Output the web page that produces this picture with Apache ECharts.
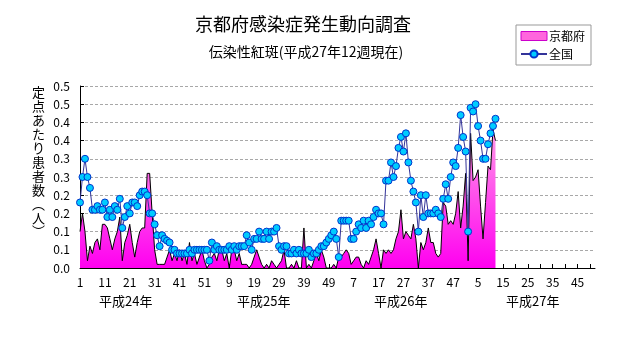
<!DOCTYPE html>
<html><head><meta charset="utf-8">
<script src="https://cdn.jsdelivr.net/npm/echarts@6/dist/echarts.min.js"></script>
<style>html,body{margin:0;padding:0;background:#fff}#c{width:631px;height:347px}</style>
</head><body><div id="c"></div>
<script>
// ---- data ----
const weeksPerYear = [52, 52, 52, 52];
const yearLabels = ['平成24年', '平成25年', '平成26年', '平成27年'];
const yTickLabels = ['0.0','0.1','0.1','0.2','0.2','0.3','0.3','0.4','0.4','0.5','0.5'];
const yAxisTitle = ['定','点','あ','た','り','患','者','数','︵','人','︶'];
const kyoto = [
0.10,0.15,0.10,0.02,0.06,0.04,0.07,0.08,0.05,0.12,0.12,0.11,0.08,0.05,0.08,0.10,0.14,0.02,0.07,0.09,
0.12,0.07,0.03,0.07,0.10,0.11,0.11,0.26,0.26,0.15,0.05,0.01,0.01,0.01,0.01,0.03,0.05,0.02,0.04,0.02,
0.05,0.02,0.04,0.01,0.07,0.02,0.04,0.01,0.03,0.05,0.02,0.00,0.01,0.03,0.04,0.02,0.05,0.05,0.02,0.04,
0.00,0.05,0.05,0.02,0.04,0.01,0.01,0.01,0.00,0.01,0.03,0.05,0.03,0.01,0.00,0.01,0.00,0.02,0.01,0.00,
0.01,0.02,0.05,0.00,0.00,0.01,0.00,0.02,0.00,0.00,0.11,0.00,0.01,0.00,0.02,0.04,0.02,0.05,0.03,0.00,
0.00,0.00,0.01,0.00,0.03,0.03,0.04,0.05,0.04,0.01,0.02,0.03,0.03,0.01,0.00,0.02,0.01,0.03,0.05,0.08,
0.04,0.00,0.05,0.04,0.05,0.04,0.05,0.08,0.10,0.16,0.08,0.10,0.09,0.08,0.12,0.08,0.00,0.07,0.05,0.07,
0.11,0.07,0.07,0.04,0.03,0.04,0.18,0.17,0.12,0.13,0.12,0.15,0.21,0.11,0.17,0.26,0.02,0.37,0.24,0.25,
0.27,0.17,0.08,0.18,0.28,0.27,0.38,0.35
];
const national = [
0.18,0.25,0.30,0.25,0.22,0.16,0.16,0.17,0.16,0.16,0.18,0.14,0.16,0.14,0.17,0.16,0.19,0.11,0.14,0.17,
0.15,0.18,0.18,0.17,0.20,0.21,0.21,0.20,0.15,0.15,0.12,0.09,0.06,0.09,0.08,0.075,0.07,0.05,0.05,0.04,
0.04,0.04,0.04,0.04,0.05,0.04,0.05,0.05,0.05,0.05,0.05,0.05,0.02,0.07,0.05,0.06,0.05,0.05,0.05,0.05,
0.06,0.05,0.06,0.05,0.06,0.06,0.06,0.09,0.07,0.05,0.08,0.08,0.10,0.08,0.08,0.10,0.08,0.10,0.10,0.11,
0.06,0.05,0.06,0.06,0.04,0.04,0.05,0.04,0.05,0.04,0.04,0.04,0.05,0.03,0.04,0.04,0.05,0.06,0.06,0.07,
0.08,0.09,0.10,0.08,0.03,0.13,0.13,0.13,0.13,0.08,0.08,0.10,0.12,0.11,0.13,0.11,0.13,0.12,0.14,0.16,
0.15,0.15,0.12,0.24,0.24,0.29,0.25,0.28,0.33,0.36,0.32,0.37,0.29,0.24,0.21,0.18,0.10,0.20,0.14,0.20,
0.15,0.15,0.15,0.16,0.15,0.14,0.19,0.23,0.19,0.25,0.29,0.28,0.33,0.42,0.36,0.32,0.10,0.44,0.43,0.45,
0.39,0.35,0.30,0.30,0.34,0.37,0.39,0.41
];
// ---- build categories ----
const categories = [];
weeksPerYear.forEach(n => { for (let w = 1; w <= n; w++) categories.push(String(w)); });

const FONT = '"Noto Sans CJK JP", "Noto Sans", sans-serif';
const chart = echarts.init(document.getElementById('c'), null, {renderer: 'canvas'});
const yearX = [125, 263, 400, 532];
const titleChars = yAxisTitle.map((ch, k) => ({
  type: 'text', left: 32, top: 86 + k * 13.9,
  style: {text: ch, fontSize: 13, fontFamily: FONT, fill: '#000'}
}));
chart.setOption({
  animation: false,
  backgroundColor: '#fff',
  textStyle: {fontFamily: FONT},
  title: [
    {text: '京都府感染症発生動向調査', left: 298, top: 10, textAlign: 'center',
     textStyle: {fontSize: 18, fontWeight: 'normal', color: '#000', fontFamily: FONT}},
    {text: '伝染性紅斑(平成27年12週現在)', left: 301, top: 40, textAlign: 'center',
     textStyle: {fontSize: 14, fontWeight: 'normal', color: '#000', fontFamily: FONT}}
  ],
  legend: {
    orient: 'vertical', left: 516, top: 25, padding: [5, 6, 5, 4], itemGap: 6,
    borderColor: '#999', borderWidth: 1, backgroundColor: '#fff',
    itemWidth: 26, itemHeight: 9,
    textStyle: {fontSize: 12, color: '#000', fontFamily: FONT, padding: [0, 0, 0, -3]},
    data: [
      {name: '京都府', icon: 'rect', itemStyle: {color: '#FF66DD', borderColor: '#CC00CC', borderWidth: 1}},
      {name: '全国'}
    ]
  },
  grid: {left: 80, top: 86, right: 36, bottom: 79, containLabel: false},
  xAxis: {
    type: 'category', data: categories, boundaryGap: false,
    axisLine: {lineStyle: {color: '#000', width: 1}},
    axisTick: {inside: true, length: 4, interval: 4, lineStyle: {color: '#000'}},
    axisLabel: {interval: 9, color: '#000', fontSize: 12, margin: 8, fontFamily: FONT},
    splitLine: {show: false}
  },
  yAxis: {
    type: 'value', min: 0, max: 0.5, interval: 0.05,
    axisLine: {show: true, lineStyle: {color: '#000', width: 1}},
    axisTick: {show: true, inside: true, length: 4, lineStyle: {color: '#000'}},
    axisLabel: {color: '#000', fontSize: 12, margin: 10, fontFamily: FONT,
      formatter: v => yTickLabels[Math.round(v / 0.05)]},
    splitLine: {show: true, lineStyle: {color: '#A8A8A8', type: [3, 2], width: 1}}
  },
  series: [
    {
      name: '京都府', type: 'line', data: kyoto, showSymbol: false, symbol: 'none', z: 2,
      lineStyle: {color: '#000', width: 1},
      itemStyle: {color: '#FF66DD'},
      areaStyle: {opacity: 1, color: new echarts.graphic.LinearGradient(0, 0, 0, 1, [
        {offset: 0, color: '#FF99E8'}, {offset: 1, color: '#FF00F0'}])}
    },
    {
      name: '全国', type: 'line', data: national, symbol: 'circle', symbolSize: 7, z: 3,
      showSymbol: true, showAllSymbol: true,
      lineStyle: {color: '#333399', width: 1},
      itemStyle: {color: '#00CCFF', borderColor: '#0033CC', borderWidth: 1}
    }
  ],
  graphic: titleChars.concat(yearLabels.map((t, k) => ({
    type: 'text', left: yearX[k] - 26, top: 295,
    style: {text: t, fontSize: 13, fontFamily: FONT, fill: '#000'}
  })))
});
</script></body></html>
